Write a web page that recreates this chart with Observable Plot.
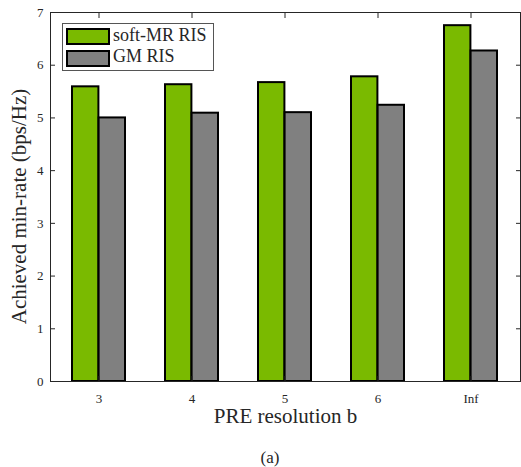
<!DOCTYPE html>
<html>
<head>
<meta charset="utf-8">
<script src="https://cdn.jsdelivr.net/npm/d3@7"></script>
<script src="https://cdn.jsdelivr.net/npm/@observablehq/plot@0.6"></script>
<style>
  body { margin: 0; background: #fff; }
  #wrap { position: relative; width: 521px; height: 467px; font-family: "Liberation Serif", serif; color: #262626; }
  #wrap svg, #wrap svg text { font-family: "Liberation Serif", serif !important; }
  .legend { position: absolute; left: 62px; top: 23px; width: 150px; height: 46px; border: 1px solid #555; background: #fff; }
  .sw { position: absolute; left: 3px; width: 40px; height: 13px; border: 2px solid #000; }
  .lt { position: absolute; left: 50px; font-size: 18px; line-height: 18px; white-space: nowrap; color: #262626; }
  .caption { position: absolute; left: 0; width: 540px; top: 449px; text-align: center; font-size: 17px; line-height: 17px; }
</style>
</head>
<body>
<div id="wrap"></div>
<script>
const categories = ["3", "4", "5", "6", "Inf"];
const softMR = [5.59, 5.63, 5.67, 5.78, 6.75];
const gmRIS = [5.00, 5.09, 5.10, 5.24, 6.27];
const seriesNames = ["soft-MR RIS", "GM RIS"];
const seriesColors = ["#7aba00", "#808080"];
const yTicks = [0, 1, 2, 3, 4, 5, 6, 7];
const xLabel = "PRE resolution b";
const yLabel = "Achieved min-rate (bps/Hz)";
const caption = "(a)";

const width = 521, height = 432;
const marginLeft = 50, marginRight = 1, marginTop = 12, marginBottom = 51;
const paddingInner = 0.43, paddingOuter = 0.233;
const step = (width - marginLeft - marginRight) / (categories.length - paddingInner + 2 * paddingOuter);
const half = step * (1 - paddingInner) / 2;

const rowsSoft = categories.map((c, i) => ({cat: c, value: softMR[i]}));
const rowsGM = categories.map((c, i) => ({cat: c, value: gmRIS[i]}));

const ff = "Liberation Serif";
const chart = Plot.plot({
  width, height, marginLeft, marginRight, marginTop, marginBottom,
  style: {fontFamily: ff, color: "#262626", background: "#fff"},
  x: {domain: categories, paddingInner, paddingOuter, label: null},
  y: {domain: [0, 7], ticks: yTicks, label: null},
  marks: [
    Plot.barY(rowsSoft, {x: "cat", y: "value", fill: seriesColors[0], stroke: "#000", strokeWidth: 2, insetLeft: 0, insetRight: half}),
    Plot.barY(rowsGM, {x: "cat", y: "value", fill: seriesColors[1], stroke: "#000", strokeWidth: 2, insetLeft: half, insetRight: 0}),
    Plot.frame({stroke: "#262626", strokeWidth: 1}),
    Plot.axisX({anchor: "bottom", tickSize: 0, tickPadding: 12, fontSize: 13, fontFamily: ff, label: null}),
    Plot.axisX({anchor: "bottom", tickSize: -5, text: null, label: null, stroke: "#262626"}),
    Plot.axisX({anchor: "top", tickSize: -5, text: null, label: null, stroke: "#262626"}),
    Plot.axisY(yTicks, {anchor: "left", tickSize: 0, tickPadding: 7, fontSize: 13, fontFamily: ff, tickFormat: d => String(d), label: null}),
    Plot.axisY(yTicks, {anchor: "left", tickSize: -5, text: null, label: null, stroke: "#262626"}),
    Plot.axisY(yTicks, {anchor: "right", tickSize: -5, text: null, label: null, stroke: "#262626"}),
    Plot.text([xLabel], {frameAnchor: "bottom", dy: 35, fontSize: 21, fontFamily: ff, lineAnchor: "middle", fill: "#262626"})
  ]
});

const wrap = document.getElementById("wrap");
wrap.appendChild(chart);

// rotated y-axis title
d3.select(chart).append("text")
  .attr("transform", `translate(19,${(marginTop + height - marginBottom) / 2 + 10}) rotate(-90)`)
  .attr("text-anchor", "middle")
  .attr("dy", "0.32em")
  .attr("font-size", 21)
  .attr("font-family", ff)
  .attr("fill", "#262626")
  .text(yLabel);

const legend = document.createElement("div");
legend.className = "legend";
seriesNames.forEach((name, i) => {
  const sw = document.createElement("div");
  sw.className = "sw";
  sw.style.top = (4 + i * 21.7) + "px";
  sw.style.background = seriesColors[i];
  legend.appendChild(sw);
  const t = document.createElement("div");
  t.className = "lt";
  t.style.top = (1.6 + i * 21.6) + "px";
  t.textContent = name;
  legend.appendChild(t);
});
wrap.appendChild(legend);

const cap = document.createElement("div");
cap.className = "caption";
cap.textContent = caption;
wrap.appendChild(cap);
</script>
</body>
</html>
